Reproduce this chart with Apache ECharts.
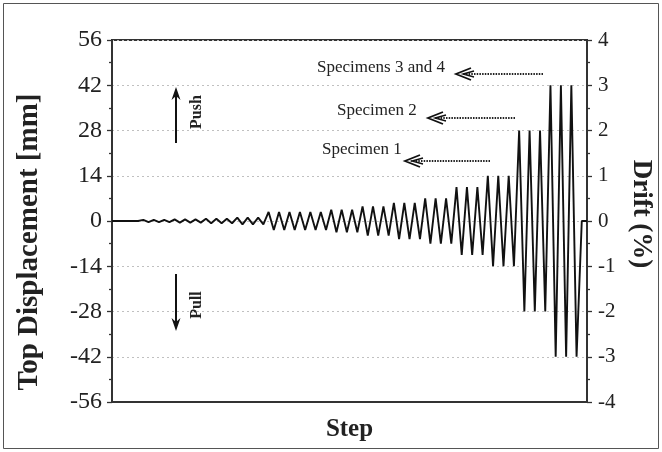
<!DOCTYPE html>
<html>
<head>
<meta charset="utf-8">
<script src="https://cdn.jsdelivr.net/npm/echarts@6/dist/echarts.min.js"></script>
<style>
  html, body { margin: 0; padding: 0; background: #fff; }
  #chart { width: 662px; height: 452px; }
</style>
</head>
<body>
<div id="chart"></div>
<script>
// Loading history: top displacement (mm) at each half-cycle reversal
const displacement = [
  0, 0, 0, 0, 0, 0,
  0.35, -0.35, 0.35, -0.35, 0.35, -0.35,
  0.5, -0.5, 0.5, -0.5, 0.5, -0.5,
  0.7, -0.7, 0.7, -0.7, 0.7, -0.7,
  1.05, -1.05, 1.05, -1.05, 1.05, -1.05,
  2.8, -2.8, 2.8, -2.8, 2.8, -2.8,
  2.8, -2.8, 2.8, -2.8, 2.8, -2.8,
  3.5, -3.5, 3.5, -3.5, 3.5, -3.5,
  4.5, -4.5, 4.5, -4.5, 4.5, -4.5,
  5.6, -5.6, 5.6, -5.6, 5.6, -5.6,
  7, -7, 7, -7, 7, -7,
  10.5, -10.5, 10.5, -10.5, 10.5, -10.5,
  14, -14, 14, -14, 14, -14,
  28, -28, 28, -28, 28, -28,
  42, -42, 42, -42, 42, -42,
  0, 0
];
const steps = displacement.map((_, i) => i);

const dispTicks = { min: -56, max: 56, interval: 14 };
const driftTicks = { min: -4, max: 4, interval: 1 };

const labelsText = {
  xName: 'Step',
  leftName: 'Top Displacement [mm]',
  rightName: 'Drift (%)',
  push: 'Push',
  pull: 'Pull',
  spec34: 'Specimens 3 and 4',
  spec2: 'Specimen 2',
  spec1: 'Specimen 1'
};

const serif = '"Liberation Serif", "DejaVu Serif", serif';
const chart = echarts.init(document.getElementById('chart'));

// dotted leader with an open arrowhead pointing left
function leader(x1, x2, y) {
  return [
    { type: 'line', shape: { x1: x1, y1: y, x2: x2 + 6, y2: y },
      style: { stroke: '#222', lineWidth: 2.2, lineDash: [1.5, 1.2] } },
    { type: 'polyline', shape: { points: [[x2 + 15, y - 6], [x2, y], [x2 + 15, y + 6]] },
      style: { stroke: '#111', lineWidth: 1.8, fill: null } },
    { type: 'polyline', shape: { points: [[x2 + 18, y - 3], [x2 + 7, y], [x2 + 18, y + 3]] },
      style: { stroke: '#111', lineWidth: 1.4, fill: null } }
  ];
}

function vArrow(x, yFrom, yTo) {
  const dir = yTo < yFrom ? 1 : -1;
  return [
    { type: 'line', shape: { x1: x, y1: yFrom, x2: x, y2: yTo + dir * 6 },
      style: { stroke: '#111', lineWidth: 2 } },
    { type: 'polygon', shape: { points: [[x, yTo], [x - 4.5, yTo + dir * 13], [x, yTo + dir * 9], [x + 4.5, yTo + dir * 13]] },
      style: { fill: '#111' } }
  ];
}

const option = {
  backgroundColor: '#fff',
  animation: false,
  grid: { left: 112, right: 75, top: 40, bottom: 50, show: true, borderColor: '#333', borderWidth: 2 },
  xAxis: {
    type: 'category',
    data: steps,
    boundaryGap: false,
    name: labelsText.xName,
    nameLocation: 'middle',
    nameGap: 15,
    nameTextStyle: { fontFamily: serif, fontWeight: 'bold', fontSize: 25, color: '#222' },
    axisLine: { onZero: false, lineStyle: { color: '#333', width: 2 } },
    axisTick: { show: false },
    axisLabel: { show: false },
    splitLine: { show: false }
  },
  yAxis: [
    {
      type: 'value',
      min: dispTicks.min, max: dispTicks.max, interval: dispTicks.interval,
      name: labelsText.leftName,
      nameLocation: 'middle',
      nameRotate: 90,
      nameGap: 68,
      nameTextStyle: { fontFamily: serif, fontWeight: 'bold', fontSize: 29, color: '#222', padding: [0, 42, 0, 0] },
      axisLine: { show: true, lineStyle: { color: '#333', width: 2 } },
      axisTick: { show: true, length: 5, lineStyle: { color: '#333', width: 1.3 } },
      minorTick: { show: true, splitNumber: 2, length: 3, lineStyle: { color: '#333', width: 1.3 } },
      axisLabel: { fontFamily: serif, fontSize: 24, color: '#222', margin: 10 },
      splitLine: { show: true, lineStyle: { color: '#c0c0c0', type: [2, 3], width: 1.2 } }
    },
    {
      type: 'value',
      position: 'right',
      min: driftTicks.min, max: driftTicks.max, interval: driftTicks.interval,
      name: labelsText.rightName,
      nameLocation: 'middle',
      nameRotate: -90,
      nameGap: 40,
      nameTextStyle: { fontFamily: serif, fontWeight: 'bold', fontSize: 27, color: '#222', padding: [0, 14, 0, 0] },
      axisLine: { show: true, lineStyle: { color: '#333', width: 2 } },
      axisTick: { show: true, length: 5, lineStyle: { color: '#333', width: 1.3 } },
      minorTick: { show: true, splitNumber: 2, length: 3, lineStyle: { color: '#333', width: 1.3 } },
      axisLabel: { fontFamily: serif, fontSize: 21, color: '#222', margin: 11 },
      splitLine: { show: false }
    }
  ],
  series: [{
    type: 'line',
    data: displacement,
    yAxisIndex: 0,
    symbol: 'none',
    lineStyle: { color: '#111', width: 1.9 }
  }],
  graphic: [
    { type: 'rect', shape: { x: 3.5, y: 3.5, width: 655, height: 445 },
      style: { stroke: '#555', lineWidth: 1, fill: null }, silent: true },
    ...vArrow(176, 143, 87),
    ...vArrow(176, 274, 331),
    { type: 'text', x: 197, y: 112, rotation: Math.PI / 2,
      style: { text: labelsText.push, font: 'bold 16px ' + serif, fill: '#222', align: 'center', verticalAlign: 'middle' } },
    { type: 'text', x: 197, y: 305, rotation: Math.PI / 2,
      style: { text: labelsText.pull, font: 'bold 16px ' + serif, fill: '#222', align: 'center', verticalAlign: 'middle' } },
    { type: 'text', x: 317, y: 68,
      style: { text: labelsText.spec34, font: '17px ' + serif, fill: '#222', align: 'left', verticalAlign: 'middle' } },
    { type: 'text', x: 337, y: 111,
      style: { text: labelsText.spec2, font: '17px ' + serif, fill: '#222', align: 'left', verticalAlign: 'middle' } },
    { type: 'text', x: 322, y: 150,
      style: { text: labelsText.spec1, font: '17px ' + serif, fill: '#222', align: 'left', verticalAlign: 'middle' } },
    ...leader(543, 456, 74),
    ...leader(515, 428, 118),
    ...leader(490, 405, 161)
  ]
};

chart.setOption(option);
</script>
</body>
</html>
